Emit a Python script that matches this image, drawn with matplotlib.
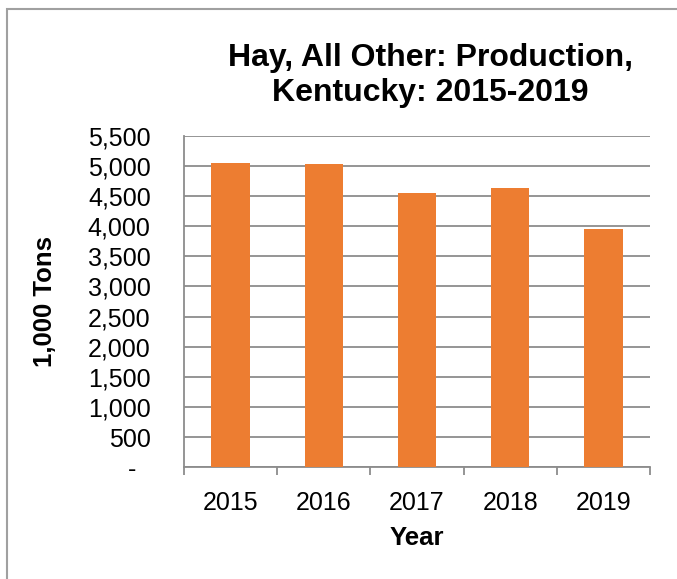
import matplotlib
matplotlib.use("Agg")
import matplotlib.pyplot as plt
from matplotlib.patches import Rectangle
from matplotlib.ticker import FuncFormatter, FixedLocator

plt.rcParams['font.family'] = ['Liberation Sans', 'DejaVu Sans']

years = ["2015", "2016", "2017", "2018", "2019"]
production = [5040, 5025, 4545, 4625, 3950]
y_ticks = list(range(0, 5501, 500))
title = "Hay, All Other: Production,\nKentucky: 2015-2019"
x_label = "Year"
y_label = "1,000 Tons"

W, H = 677, 579
fig = plt.figure(figsize=(W / 100, H / 100), dpi=100)

# outer chart border (cut off at right/bottom like the reference)
fig.patches.append(Rectangle((7 / W, -0.1), 1.2, (H - 9) / H + 0.1,
                             transform=fig.transFigure, fill=False,
                             edgecolor='#a0a0a0', linewidth=1.5))

ax = fig.add_axes([184 / W, (H - 467.3) / H, 466 / W, 331.6 / H])
x = list(range(len(years)))
ax.bar(x, production, width=0.41, color='#ED7D31', zorder=3)

ax.set_xlim(-0.5, len(years) - 0.5)
ax.set_ylim(0, 5500)
ax.set_yticks(y_ticks)
ax.yaxis.set_major_formatter(FuncFormatter(lambda v, p: "-  " if v == 0 else f"{int(v):,}"))
ax.grid(axis='y', color='#8c8c8c', linewidth=1.3, zorder=0)
ax.set_axisbelow(True)

for s in ['top', 'right']:
    ax.spines[s].set_visible(False)
for s in ['left', 'bottom']:
    ax.spines[s].set_color('#8c8c8c')
    ax.spines[s].set_linewidth(1.3)

ax.set_xticks(x)
ax.set_xticklabels(years)
ax.xaxis.set_minor_locator(FixedLocator([i - 0.5 for i in range(len(years) + 1)]))
ax.tick_params(axis='x', which='major', length=0, pad=17, labelsize=18)
ax.tick_params(axis='x', which='minor', length=6, width=1.3, color='#8c8c8c', direction='out')
ax.tick_params(axis='y', length=0, pad=24, labelsize=18)

ax.set_xlabel(x_label, fontsize=18.5, fontweight='bold', labelpad=8)
ax.set_ylabel(y_label, fontsize=18.5, fontweight='bold', labelpad=22)

fig.text(430 / W, 1 - 43 / H, title, ha='center', va='top', fontsize=23,
         fontweight='bold', linespacing=1.2)

fig.savefig("out.png", dpi=100)
